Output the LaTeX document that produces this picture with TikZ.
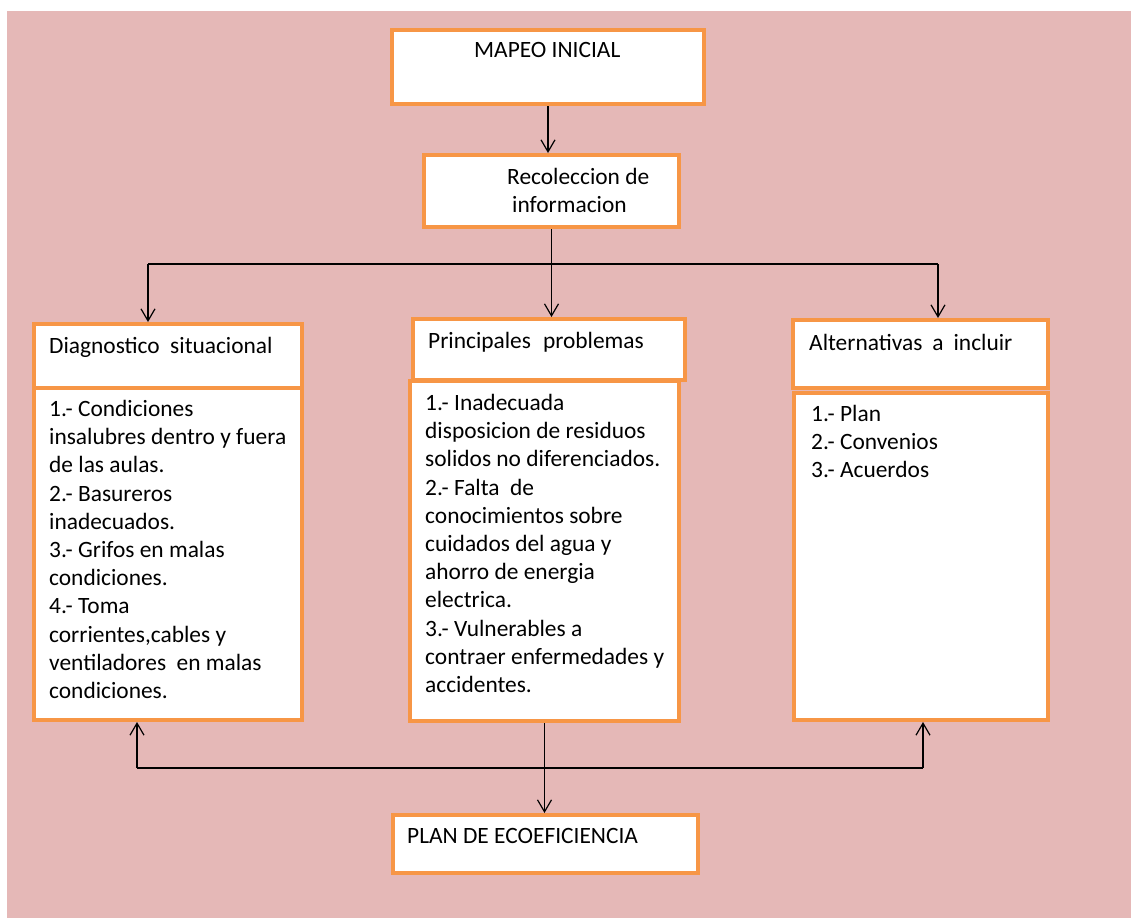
\documentclass[tikz,border=0pt]{standalone}
\usepackage{fontspec}
\setmainfont{Carlito}
\usetikzlibrary{arrows.meta}
\definecolor{bgpink}{HTML}{E5B8B7}
\definecolor{boxorange}{HTML}{F79646}
\newcommand\txtfont{\fontsize{23.4}{28.2}\selectfont}
\tikzset{
  box/.style={draw=boxorange, line width=4pt, fill=white, rectangle, inner sep=0pt},
  txt/.style={inner sep=0pt, anchor=base west, align=left, font=\txtfont},
  conn/.style={draw=black, line width=1.2pt},
  arr/.style={conn, -{Straight Barb[length=12pt,width=14pt,line width=1.2pt]}}
}
\begin{document}
\begin{tikzpicture}[x=1pt,y=-1pt]
\useasboundingbox (0,0) rectangle (1131,918);
\fill[bgpink] (7,11) rectangle (1131,918);

% boxes
\node[box, minimum width=312pt, minimum height=74pt] (mapeo) at (548,67) {};
\node[box, minimum width=255pt, minimum height=72pt] (recol) at (551.5,191) {};
\node[box, minimum width=268pt, minimum height=64pt] (diagH) at (168,356) {};
\node[box, minimum width=268pt, minimum height=332pt] (diagB) at (168,554) {};
\node[box, minimum width=272pt, minimum height=61pt] (princH) at (549,349.5) {};
\node[box, minimum width=269pt, minimum height=340pt] (princB) at (544.5,551) {};
\node[box, minimum width=255pt, minimum height=68pt] (altH) at (920.5,354) {};
\node[box, minimum width=254pt, minimum height=327pt] (altB) at (921,556.5) {};
\node[box, minimum width=305pt, minimum height=58pt] (plan) at (545.5,844) {};

% texts
\node[txt] (tmapeo) at (474,57) {MAPEO INICIAL};
\node[txt] (trecol) at (507,184) {Recoleccion de};
\node[txt] (trecol2) at (512,212) {informacion};
\node[txt] (tdiagH) at (49,353) {Diagnostico\hspace{10.5pt}situacional};
\node[txt, anchor=north west] (tdiagB) at (49,400) {1.- Condiciones\\insalubres dentro y fuera\\de las aulas.\\2.- Basureros\\inadecuados.\\3.- Grifos en malas\\condiciones.\\4.- Toma\\corrientes,cables y\\ventiladores \ en malas\\condiciones.};
\node[txt] (tprincH) at (428,348) {Principales\hspace{12pt}problemas};
\node[txt, anchor=north west] (tprincB) at (425,394) {1.- Inadecuada\\disposicion de residuos\\solidos no diferenciados.\\2.- Falta \ de\\conocimientos sobre\\cuidados del agua y\\ahorro de energia\\electrica.\\3.- Vulnerables a\\contraer enfermedades y\\accidentes.};
\node[txt] (taltH) at (809,350) {Alternativas\hspace{10pt}a\hspace{10pt}incluir};
\node[txt, anchor=north west] (taltB) at (811,405) {1.- Plan\\2.- Convenios\\3.- Acuerdos};
\node[txt] (tplan) at (407,843) {PLAN DE ECOEFICIENCIA};

% connectors
\draw[arr] (mapeo.south) -- (mapeo.south |- recol.north);
\draw[arr] (recol.south) -- (recol.south |- princH.north);
\coordinate (hl) at (148,264);
\coordinate (hr) at (938,264);
\draw[conn] (hl) -- (hr);
\draw[arr] (hl) -- (hl |- diagH.north);
\draw[arr] (hr) -- (hr |- altH.north);
\coordinate (bl) at (137,768);
\coordinate (br) at (923,768);
\draw[conn] (bl) -- (br);
\draw[arr] (bl) -- (bl |- diagB.south);
\draw[arr] (br) -- (br |- altB.south);
\draw[arr] (princB.south) -- (princB.south |- plan.north);
\end{tikzpicture}
\end{document}
